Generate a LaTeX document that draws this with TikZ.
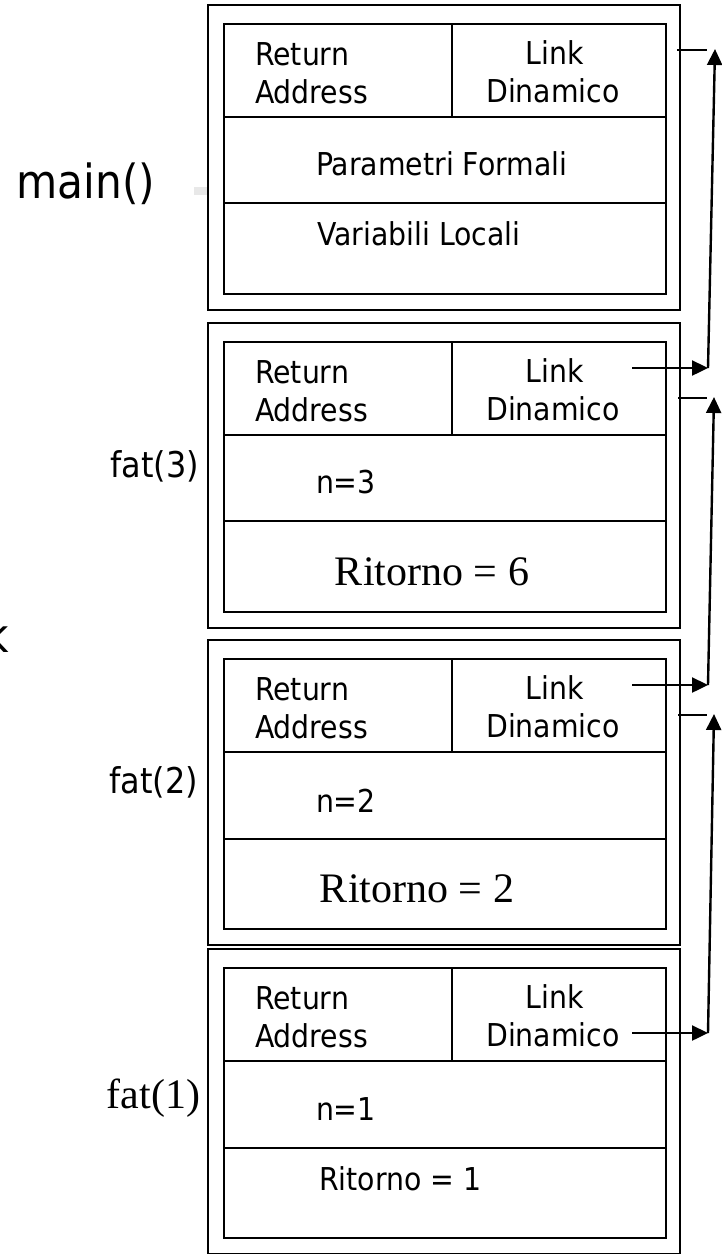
\documentclass[tikz,border=0pt]{standalone}
\usepackage{fontspec}
\newfontfamily\tah[FakeStretch=0.9]{DejaVu Sans}
\newfontfamily\tms{Liberation Serif}
\usetikzlibrary{arrows.meta}
\tikzset{
  outerbox/.style={draw,line width=2.3pt,inner sep=0pt,outer sep=0pt,minimum width=472pt,minimum height=305pt},
  innerbox/.style={draw,line width=2.3pt,inner sep=0pt,outer sep=0pt,minimum width=442pt,minimum height=270pt},
  rowrule/.style={line width=2.2pt},
  thinrule/.style={line width=1.5pt},
  endrule/.style={line width=2.8pt},
  txt/.style={inner sep=0pt,outer sep=0pt,font=\tah\fontsize{31.5}{36}\selectfont},
  bigtxt/.style={inner sep=0pt,outer sep=0pt,font=\tah\fontsize{47}{56}\selectfont},
  lbltxt/.style={inner sep=0pt,outer sep=0pt,font=\tah\fontsize{35.5}{40}\selectfont},
  serif/.style={inner sep=0pt,outer sep=0pt,font=\tms\fontsize{42}{50}\selectfont},
  link/.style={line width=2.4pt,-{Triangle[length=16pt,width=15pt]}},
  stub/.style={line width=2pt},
}
\newcommand\stackframe[2]{%
  \node[outerbox,anchor=north west] (#1o) at (208,#2) {};
  \node[innerbox,anchor=north west] (#1i) at (224,{#2+19}) {};
  \draw[rowrule] (224,{#2+112}) -- (666,{#2+112});
  \draw[rowrule] (452,{#2+19}) -- (452,{#2+112});
  \node[txt,anchor=base west] (#1r1) at (255,{#2+60}) {Return};
  \node[txt,anchor=base west] (#1r2) at (255,{#2+98}) {Address};
  \node[txt,anchor=base] (#1l1) at (555,{#2+59}) {Link};
  \node[txt,anchor=base] (#1l2) at (553,{#2+97}) {Dinamico};
}
\newcommand\splitrule[1]{%
  \draw[thinrule] (224,#1) -- (666,#1);
  \draw[endrule] (224,#1) -- (295,#1);
  \draw[endrule] (622,#1) -- (666,#1);
}
\begin{document}
\begin{tikzpicture}[x=1pt,y=-1pt]
\useasboundingbox (0,0) rectangle (722,1254);
\fill[white] (0,0) rectangle (722,1254);

% side texts
\node[bigtxt,anchor=base east] (stk) at (9,652) {k};
\node[bigtxt,anchor=base] (mainlbl) at (86,198) {main()};
\fill[gray!18] (194,187) rectangle (207,195);

% main frame
\stackframe{m}{5}
\splitrule{203}
\node[txt,anchor=base west] (mpf) at (316,175) {Parametri Formali};
\node[txt,anchor=base west] (mvl) at (317,245) {Variabili Locali};

% fat(3)
\stackframe{a}{323}
\splitrule{521}
\node[lbltxt,anchor=base east] (alb) at (199,477) {fat(3)};
\node[txt,anchor=base west] (an) at (316,493) {n=3};
\node[serif,anchor=base] (art) at (432,585) {Ritorno = 6};

% fat(2)
\stackframe{b}{640}
\draw[thinrule] (224,839) -- (666,839);
\node[lbltxt,anchor=base east] (blb) at (198,793) {fat(2)};
\node[txt,anchor=base west] (bn) at (316,812) {n=2};
\node[serif,anchor=base] (brt) at (417,902) {Ritorno = 2};

% fat(1)
\stackframe{c}{949}
\splitrule{1148}
\node[serif,anchor=base east] (clb) at (200,1108) {fat(1)};
\node[txt,anchor=base west] (cn) at (316,1120) {n=1};
\node[txt,anchor=base west] (crt) at (319,1190) {Ritorno = 1};

% dynamic links
\coordinate (ms) at (677,50);   \coordinate (me) at (707,50);   \coordinate (mt) at (715,49);
\coordinate (as) at (632,368);  \coordinate (ae) at (708,368);
\coordinate (a2s) at (678,398); \coordinate (a2e) at (707,398); \coordinate (at) at (714,397);
\coordinate (bs) at (632,685);  \coordinate (be) at (708,685);
\coordinate (b2s) at (678,715); \coordinate (b2e) at (707,715); \coordinate (bt) at (714,714);
\coordinate (cs) at (632,1033); \coordinate (ce) at (708,1033);

\draw[stub] (ms) -- (me);
\draw[link] (as) -- (ae);
\draw[link] (ae) -- (mt);
\draw[stub] (a2s) -- (a2e);
\draw[link] (bs) -- (be);
\draw[link] (be) -- (at);
\draw[stub] (b2s) -- (b2e);
\draw[link] (cs) -- (ce);
\draw[link] (ce) -- (bt);
\end{tikzpicture}
\end{document}
